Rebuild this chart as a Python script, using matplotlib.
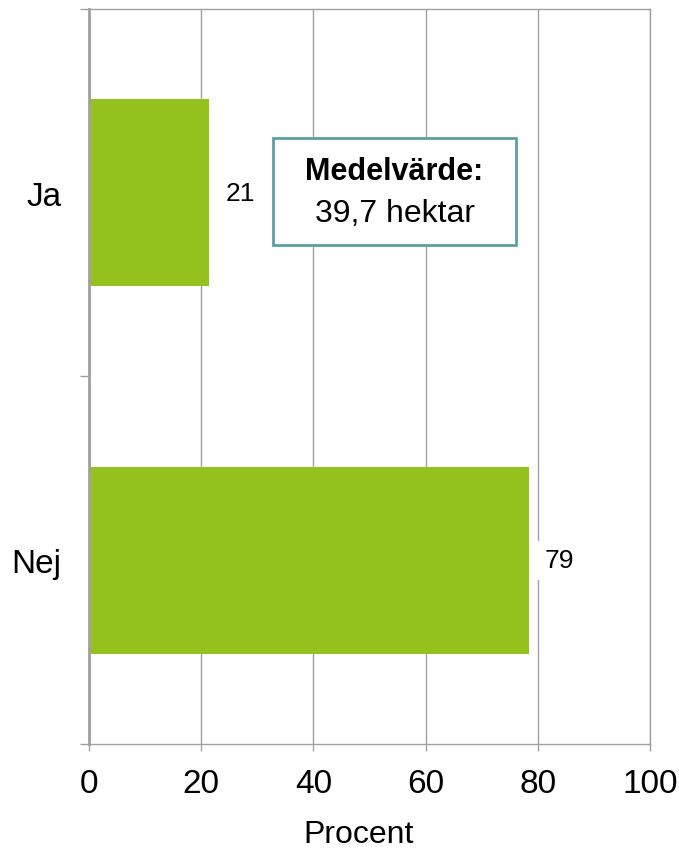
import matplotlib.pyplot as plt
from matplotlib.patches import Rectangle

plt.rcParams['font.family'] = ['Liberation Sans', 'DejaVu Sans']

categories = ['Ja', 'Nej']
values = [21.4, 78.4]
value_labels = ['21', '79']
x_ticks = [0, 20, 40, 60, 80, 100]

green = '#95c11f'
grid_col = '#a0a0a0'

fig = plt.figure(figsize=(6.79, 8.53), dpi=100)
ax = fig.add_axes([0.1311, 0.1266, 0.8262, 0.8617])

pos = list(range(len(categories)))
ax.barh(pos, values, height=0.51, color=green, zorder=2)

# value labels sit on a white patch that cuts through the gridlines
for p, v, lab in zip(pos, values, value_labels):
    ax.text(v + 2.9, p, lab, va='center', ha='left', fontsize=19, color='black',
            bbox=dict(facecolor='white', edgecolor='none', pad=5.5), zorder=3)

ax.set_xlim(0, 100)
ax.set_ylim(1.5, -0.5)
ax.set_xticks(x_ticks)
ax.set_xticklabels([str(t) for t in x_ticks], fontsize=24)
ax.set_yticks(pos)
ax.set_yticklabels(categories, fontsize=24)
ax.set_yticks([-0.5, 0.5, 1.5], minor=True)
ax.tick_params(axis='y', which='major', length=0, pad=20)
ax.tick_params(axis='y', which='minor', length=6.5, width=1, color=grid_col)
ax.tick_params(axis='x', length=5, width=1, color=grid_col, pad=12)
ax.xaxis.grid(True, color=grid_col, linewidth=1, zorder=0)
ax.set_axisbelow(True)
for s in ax.spines.values():
    s.set_color(grid_col)
    s.set_linewidth(1)
ax.spines['left'].set_linewidth(2)

ax.set_xlabel('Procent', fontsize=23)
ax.xaxis.set_label_coords(0.48, -0.102)

# mean value box
box = Rectangle((0.328, 0.679), 0.433, 0.1455, transform=ax.transAxes,
                facecolor='white', edgecolor='#5f9ea3', linewidth=2, zorder=4)
ax.add_patch(box)
ax.text(0.5446, 0.7796, 'Medelvärde:', transform=ax.transAxes, ha='center',
        va='center', fontsize=22, fontweight='bold', zorder=5)
ax.text(0.5446, 0.722, '39,7 hektar', transform=ax.transAxes, ha='center',
        va='center', fontsize=23, zorder=5)

fig.savefig('out.png', dpi=100)
